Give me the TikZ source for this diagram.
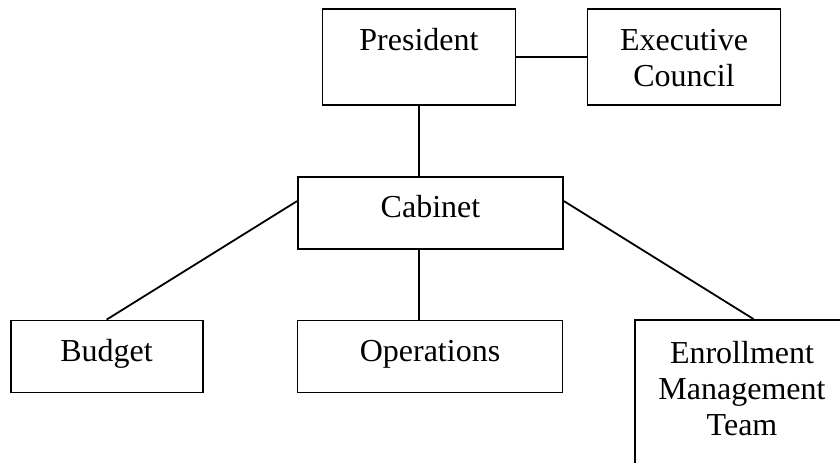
\documentclass[tikz,border=0pt]{standalone}
\usepackage{fontspec}
\setmainfont{Liberation Serif}
\usetikzlibrary{positioning}

\begin{document}
\begin{tikzpicture}[x=0.5pt,y=-0.5pt,line width=0.9pt,
  every node/.style={draw,rectangle,inner sep=0pt,align=center,
    font=\fontsize{16}{18}\selectfont,text height=20.5pt},
  office/.style={minimum width=96.5pt,minimum height=48pt,text depth=27.5pt},
  group/.style={minimum width=132.5pt,minimum height=36pt,text depth=15.5pt}]
  \clip (0,0) rectangle (840,462);

  \node[office] (pres) at (419,57) {President};
  \node[office,text height=38.5pt,text depth=9.5pt] (exec) at (684,57) {Executive\\Council};
  \node[group]  (cab)  at (430.5,212.75) {Cabinet};
  \node[group,minimum width=96pt] (bud) at (106.6,356.5) {Budget};
  \node[group]  (ops)  at (430,356.5) {Operations};
  \node[minimum width=107.3pt,minimum height=80pt,text height=57.5pt,text depth=22.5pt]
    (enr) at (742,400) {Enrollment\\Management\\Team};

  \draw (pres.east) -- (exec.west);
  \draw (pres.south) -- (cab.north -| pres.south);
  \draw (cab.south -| pres.south) -- (ops.north -| pres.south);
  \draw (cab.175) -- (bud.north);
  \draw (cab.5) -- ([xshift=5.8pt]enr.north);
\end{tikzpicture}
\end{document}
